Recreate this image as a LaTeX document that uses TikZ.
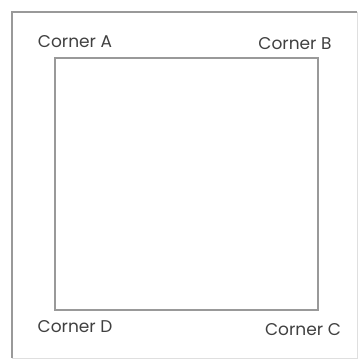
\documentclass[tikz,border=0pt]{standalone}
\usepackage{fontspec}
\setmainfont{Poppins}
\usepackage{tikz}
\usetikzlibrary{positioning}

\begin{document}
\begin{tikzpicture}[x=1pt, y=-1pt,
    frame/.style={draw=gray!80, line width=1.4pt},
    square/.style={draw=gray!80, line width=1.2pt},
    corner/.style={text=black!75, font=\fontsize{17}{19}\selectfont, inner sep=0pt}]

    \useasboundingbox (0,0) rectangle (359,360);
    \draw [frame] (12,358) -- (12,12) -- (357,12);
    \draw [draw=gray!25, line width=0.8pt] (357,12) -- (357,358) -- (12,358);

    \coordinate (a) at (55,58);
    \coordinate (b) at (318,58);
    \coordinate (c) at (318,310);
    \coordinate (d) at (55,310);
    \draw [square] (a) -- (b) -- (c) -- (d) -- cycle;

    \node [corner] (labela) at (75,42) {Corner A};
    \node [corner] (labelb) at (295,44) {Corner B};
    \node [corner] (labeld) at (75,327) {Corner D};
    \node [corner] (labelc) at (303,330) {Corner C};
\end{tikzpicture}
\end{document}
